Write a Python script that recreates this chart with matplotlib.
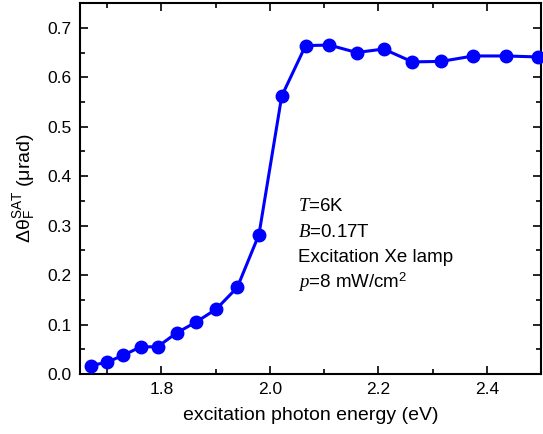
import matplotlib
matplotlib.use("Agg")
import matplotlib.pyplot as plt
from matplotlib.ticker import MultipleLocator

plt.rcParams['font.family'] = ['Liberation Sans', 'DejaVu Sans']
plt.rcParams['mathtext.fontset'] = 'custom'
plt.rcParams['mathtext.rm'] = 'Liberation Sans'
plt.rcParams['mathtext.it'] = 'Liberation Serif:italic'

energy = [1.670, 1.700, 1.730, 1.762, 1.793, 1.828, 1.864, 1.901, 1.940, 1.980,
          2.022, 2.066, 2.110, 2.160, 2.210, 2.263, 2.316, 2.375, 2.435, 2.495]
signal = [0.017, 0.024, 0.038, 0.055, 0.055, 0.083, 0.105, 0.131, 0.175, 0.282,
          0.562, 0.664, 0.665, 0.650, 0.657, 0.631, 0.632, 0.643, 0.643, 0.641]

fig = plt.figure(figsize=(5.43, 4.34), dpi=100)
ax = fig.add_axes([0.1473, 0.1382, 0.8490, 0.8548])
ax.plot(energy, signal, '-o', color='#0000ff', lw=2.2, ms=9, clip_on=False, zorder=3)

ax.set_xlim(1.65, 2.5)
ax.set_ylim(0, 0.75)
ax.xaxis.set_minor_locator(MultipleLocator(0.1))
ax.yaxis.set_minor_locator(MultipleLocator(0.05))
ax.set_xticks([1.8, 2.0, 2.2, 2.4])
ax.set_xticklabels(['1.8', '2.0', '2.2', '2.4'])
ax.set_yticks([0.0, 0.1, 0.2, 0.3, 0.4, 0.5, 0.6, 0.7])
ax.set_yticklabels(['0.0', '0.1', '0.2', '0.3', '0.4', '0.5', '0.6', '0.7'])
ax.tick_params(which='both', direction='in', top=True, right=True, labelsize=12.5, width=1.2)
ax.tick_params(which='major', length=6, pad=6)
ax.tick_params(which='minor', length=3.5)
for s in ax.spines.values():
    s.set_linewidth(1.5)

ax.set_xlabel('excitation photon energy (eV)', fontsize=14, labelpad=7)
ax.set_ylabel('Δθ$_\\mathrm{F}^\\mathrm{SAT}$ (μrad)', fontsize=14, labelpad=7)

tx = 0.473
fs = 13.5
ax.text(tx, 0.439, r'$\mathit{T}$=6K', transform=ax.transAxes, fontsize=fs)
ax.text(tx, 0.369, r'$\mathit{B}$=0.17T', transform=ax.transAxes, fontsize=fs)
ax.text(tx, 0.302, 'Excitation Xe lamp', transform=ax.transAxes, fontsize=fs)
ax.text(tx, 0.232, r'$\mathit{p}$=8 mW/cm$^2$', transform=ax.transAxes, fontsize=fs)

fig.savefig('out.png', dpi=100)
